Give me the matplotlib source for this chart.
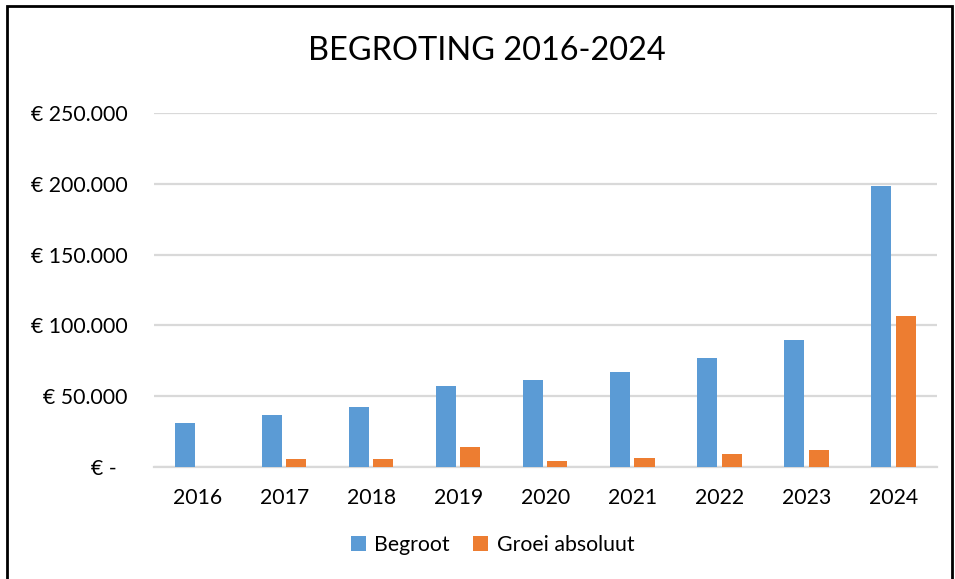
import matplotlib.pyplot as plt
import matplotlib.patches as mpatches
import numpy as np

# data
years = ['2016', '2017', '2018', '2019', '2020', '2021', '2022', '2023', '2024']
begroot = [31200, 36900, 42600, 57000, 61200, 67200, 77100, 89800, 198500]
groei = [0, 5500, 5500, 14000, 4100, 6600, 9400, 12200, 106700]
yticks = [0, 50000, 100000, 150000, 200000, 250000]

plt.rcParams['font.family'] = ['Lato', 'DejaVu Sans']

fig = plt.figure(figsize=(9.55, 5.79), dpi=100)
ax = fig.add_axes([0.161, 0.1934, 0.82, 0.6116])

x = np.arange(len(years))
w = 0.23
ax.bar(x - 0.14, begroot, w, color='#5b9bd5', label='Begroot', zorder=3)
ax.bar(x + 0.14, groei, w, color='#ed7d31', label='Groei absoluut', zorder=3)

ax.set_xlim(-0.5, len(years) - 0.5)
ax.set_ylim(0, 250000)
ax.set_xticks(x)
ax.set_xticklabels(years, fontsize=15.3)


def eur(v):
    if v == 0:
        return '€ -  '
    return '€ ' + f'{v:,.0f}'.replace(',', '.')


ax.set_yticks(yticks)
ax.set_yticklabels([eur(v) for v in yticks], fontsize=15.3)
ax.tick_params(axis='both', length=0, colors='black')
ax.tick_params(axis='y', pad=19)
ax.tick_params(axis='x', pad=15)
ax.yaxis.grid(True, color='#d9d9d9', linewidth=1.6, zorder=0)
for s in ['top', 'right', 'left']:
    ax.spines[s].set_visible(False)
ax.spines['bottom'].set_color('#d9d9d9')
ax.spines['bottom'].set_linewidth(1.6)

fig.text(0.51, 0.912, 'BEGROTING 2016-2024', ha='center', va='center', fontsize=23.4)

fig.legend(loc='center', bbox_to_anchor=(0.516, 0.059), ncol=2, frameon=False,
           fontsize=15.3, handlelength=0.7, handleheight=0.7, handletextpad=0.4,
           columnspacing=1.1)

# outer border
fig.patches.append(mpatches.Rectangle((7 / 955, -0.05), 945 / 955, 1.05 - 6 / 579,
                                      transform=fig.transFigure, fill=False,
                                      edgecolor='black', linewidth=2))

fig.savefig('out.png', dpi=100)
